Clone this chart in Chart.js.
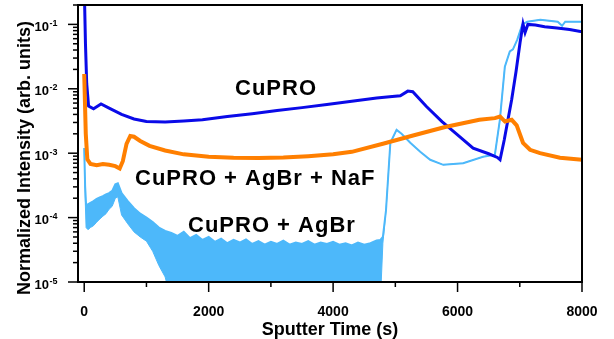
<!DOCTYPE html>
<html>
<head>
<meta charset="utf-8">
<title>Sputter depth profile</title>
<script src="https://cdn.jsdelivr.net/npm/chart.js@4/dist/chart.umd.min.js"></script>
<style>
  body { margin: 0; background: #fff; }
  #wrap { width: 614px; height: 339px; }
</style>
</head>
<body>
<div id="wrap"><canvas id="profileChart" width="614" height="339"></canvas></div>
<script>
// CuPRO (dark blue)
const cuproTime = [0, 20, 40, 70, 150, 270, 400, 600, 800, 1000, 1300, 1600, 1900, 2300, 2700, 3100, 3500, 3900, 4300, 4700, 4950, 5080, 5200, 5280, 5500, 5750, 6000, 6250, 6500, 6640, 6683, 6750, 6870, 6940, 7004, 7052, 7085, 7130, 7250, 7400, 7600, 7800, 8000];
const cuproValues = [0.4, 0.05, 0.012, 5.4e-3, 4.9e-3, 5.8e-3, 5.0e-3, 4.0e-3, 3.4e-3, 3.1e-3, 3.05e-3, 3.15e-3, 3.3e-3, 3.7e-3, 4.1e-3, 4.6e-3, 5.1e-3, 5.7e-3, 6.4e-3, 7.2e-3, 7.6e-3, 7.8e-3, 9.2e-3, 9.0e-3, 5.3e-3, 3.1e-3, 1.93e-3, 1.2e-3, 9.8e-4, 8.6e-4, 7.9e-4, 1.6e-3, 6.8e-3, 0.0185, 0.052, 0.101, 0.075, 0.10, 0.098, 0.092, 0.088, 0.083, 0.077];

// CuPRO + AgBr + NaF (orange)
const nafTime = [0, 25, 50, 100, 200, 300, 400, 500, 570, 620, 680, 740, 800, 900, 1050, 1300, 1600, 2000, 2400, 2800, 3200, 3600, 4000, 4300, 4800, 5300, 5800, 6350, 6600, 6683, 6763, 6870, 6950, 7052, 7165, 7325, 7646, 8000];
const nafValues = [0.017, 2e-3, 8e-4, 6.8e-4, 6.5e-4, 6.8e-4, 6.6e-4, 6.3e-4, 5.8e-4, 7.5e-4, 1.4e-3, 1.85e-3, 1.8e-3, 1.55e-3, 1.3e-3, 1.1e-3, 9.6e-4, 8.8e-4, 8.5e-4, 8.4e-4, 8.6e-4, 9.0e-4, 9.6e-4, 1.05e-3, 1.4e-3, 1.9e-3, 2.55e-3, 3.3e-3, 3.5e-3, 3.7e-3, 3.1e-3, 3.3e-3, 2.7e-3, 1.45e-3, 1.13e-3, 1.0e-3, 8.5e-4, 7.9e-4];

// CuPRO + AgBr (light blue), upper and lower edge of the noisy trace
const agbrTime = [0, 15, 30, 60, 100, 150, 200, 250, 300, 350, 400, 450, 500, 540, 600, 700, 800, 900, 1000, 1100, 1200, 1300, 1400, 1500, 1600, 1700, 1800, 1900, 2000, 2100, 2200, 2300, 2400, 2500, 2600, 2700, 2800, 2900, 3000, 3100, 3200, 3300, 3400, 3500, 3600, 3700, 3800, 3900, 4000, 4100, 4200, 4300, 4400, 4500, 4600, 4700, 4760, 4800, 4850, 4920, 5020, 5100, 5240, 5400, 5560, 5770, 6090, 6410, 6600, 6680, 6760, 6840, 6890, 6960, 7040, 7120, 7330, 7610, 7680, 7730, 8000];
const agbrHigh = [1.2e-3, 3e-4, 1.6e-4, 1.6e-4, 1.7e-4, 1.8e-4, 1.95e-4, 2.05e-4, 2.15e-4, 2.3e-4, 2.4e-4, 2.6e-4, 3.3e-4, 3.4e-4, 2.4e-4, 1.8e-4, 1.4e-4, 1.15e-4, 1.0e-4, 8.5e-5, 7e-5, 6.2e-5, 5.8e-5, 5.2e-5, 6.0e-5, 4.8e-5, 5.4e-5, 4.5e-5, 5.0e-5, 4.2e-5, 4.7e-5, 4.0e-5, 4.5e-5, 4.1e-5, 4.6e-5, 3.9e-5, 4.3e-5, 3.8e-5, 4.2e-5, 3.9e-5, 4.4e-5, 3.8e-5, 4.1e-5, 3.9e-5, 4.3e-5, 3.8e-5, 4.1e-5, 3.9e-5, 4.2e-5, 3.8e-5, 4.0e-5, 3.7e-5, 4.1e-5, 3.8e-5, 4.0e-5, 4.4e-5, 4.5e-5, 5e-5, 1.3e-4, 1.45e-3, 2.3e-3, 2.0e-3, 1.45e-3, 1.05e-3, 7.9e-4, 6.6e-4, 7.0e-4, 8.8e-4, 9.5e-4, 3.3e-3, 0.022, 0.038, 0.041, 0.058, 0.10, 0.11, 0.118, 0.11, 0.095, 0.11, 0.11];
const agbrLow = [1.2e-3, 2e-4, 7e-5, 6.5e-5, 7e-5, 7.5e-5, 8.5e-5, 9.5e-5, 1.05e-4, 1.15e-4, 1.35e-4, 1.5e-4, 2.0e-4, 2.1e-4, 1.1e-4, 8e-5, 6e-5, 5e-5, 4.3e-5, 3e-5, 1.8e-5, 1.2e-5, 5e-6, 5e-6, 5e-6, 5e-6, 5e-6, 5e-6, 5e-6, 5e-6, 5e-6, 5e-6, 5e-6, 5e-6, 5e-6, 5e-6, 5e-6, 5e-6, 5e-6, 5e-6, 5e-6, 5e-6, 5e-6, 5e-6, 5e-6, 5e-6, 5e-6, 5e-6, 5e-6, 5e-6, 5e-6, 5e-6, 5e-6, 5e-6, 5e-6, 5e-6, 5e-6, 4e-5, 1.3e-4, 1.45e-3, 2.3e-3, 2.0e-3, 1.45e-3, 1.05e-3, 7.9e-4, 6.6e-4, 7.0e-4, 8.8e-4, 9.5e-4, 3.3e-3, 0.022, 0.038, 0.041, 0.058, 0.10, 0.11, 0.118, 0.11, 0.095, 0.11, 0.11];

// Axis ticks
const xMajorTicks = [0, 2000, 4000, 6000, 8000];
const xMinorTicks = [1000, 3000, 5000, 7000];
const yExponents = [-5, -4, -3, -2, -1];
const yMinorFactors = [2, 3, 4, 5, 6, 7, 8, 9];

const FONT = '"Liberation Sans", Arial, sans-serif';

function toPoints(times, values) {
    return times.map((t, i) => ({ x: t, y: values[i] }));
}

// Frame, tick marks and every text of the figure
const axesPlugin = {
    id: 'axesPlugin',
    afterDraw(chart) {
        const ctx = chart.ctx;
        const area = chart.chartArea;
        const xScale = chart.scales.x;
        const yScale = chart.scales.y;

        ctx.save();
        ctx.strokeStyle = '#000';
        ctx.fillStyle = '#000';
        ctx.lineWidth = 2;
        ctx.strokeRect(area.left, area.top, area.right - area.left, area.bottom - area.top);

        function tick(x1, y1, x2, y2) {
            ctx.beginPath();
            ctx.moveTo(x1, y1);
            ctx.lineTo(x2, y2);
            ctx.stroke();
        }

        // x ticks
        ctx.lineWidth = 1.5;
        xMajorTicks.forEach(v => {
            const px = xScale.getPixelForValue(v);
            tick(px, area.bottom, px, area.bottom + 10);
        });
        xMinorTicks.forEach(v => {
            const px = xScale.getPixelForValue(v);
            tick(px, area.bottom, px, area.bottom + 5);
        });

        // y ticks (log)
        yExponents.forEach(e => {
            const py = yScale.getPixelForValue(Math.pow(10, e));
            tick(area.left - 10, py, area.left, py);
            yMinorFactors.forEach(f => {
                const v = f * Math.pow(10, e);
                if (v <= yScale.max) {
                    const p = yScale.getPixelForValue(v);
                    tick(area.left - 5, p, area.left, p);
                }
            });
        });

        // x tick labels
        ctx.font = 'bold 14px ' + FONT;
        ctx.textAlign = 'center';
        ctx.textBaseline = 'alphabetic';
        xMajorTicks.forEach(v => {
            ctx.fillText(String(v), xScale.getPixelForValue(v), 316);
        });

        // y tick labels 10^n
        yExponents.forEach(e => {
            const py = yScale.getPixelForValue(Math.pow(10, e));
            ctx.font = 'bold 13px ' + FONT;
            ctx.textAlign = 'right';
            ctx.fillText('10', 49, py + 6.5);
            ctx.font = 'bold 9px ' + FONT;
            ctx.textAlign = 'left';
            ctx.fillText(String(e), 49.5, py + 1.5);
        });

        // axis titles
        ctx.font = 'bold 18px ' + FONT;
        ctx.textAlign = 'center';
        ctx.fillText('Sputter Time (s)', (area.left + area.right) / 2, 335);

        ctx.save();
        ctx.translate(30, 158);
        ctx.rotate(-Math.PI / 2);
        ctx.fillText('Normalized Intensity (arb. units)', 0, 0);
        ctx.restore();

        // series labels
        ctx.font = 'bold 22px ' + FONT;
        ctx.textAlign = 'left';
        ctx.letterSpacing = '1px';
        ctx.fillText('CuPRO', 235, 95);
        ctx.fillText('CuPRO + AgBr + NaF', 135, 185);
        ctx.fillText('CuPRO + AgBr', 188, 232);
        ctx.restore();
    }
};

function createChart(ctx) {
    const chartConfig = {
        type: 'line',
        data: {
            datasets: [
                {
                    label: 'CuPRO + AgBr + NaF',
                    data: toPoints(nafTime, nafValues),
                    borderColor: '#ff7f00',
                    borderWidth: 4,
                    fill: false
                },
                {
                    label: 'CuPRO',
                    data: toPoints(cuproTime, cuproValues),
                    borderColor: '#0a0ae8',
                    borderWidth: 3,
                    fill: false
                },
                {
                    label: 'CuPRO + AgBr',
                    data: toPoints(agbrTime, agbrHigh),
                    borderColor: '#4db8fa',
                    backgroundColor: '#4db8fa',
                    borderWidth: 2,
                    fill: '+1'
                },
                {
                    label: 'CuPRO + AgBr low',
                    data: toPoints(agbrTime, agbrLow),
                    borderColor: '#4db8fa',
                    borderWidth: 1,
                    fill: false
                }
            ]
        },
        options: {
            responsive: false,
            animation: false,
            devicePixelRatio: 1,
            layout: {
                padding: { left: 78, right: 32, top: 5, bottom: 57 }
            },
            elements: {
                point: { radius: 0 },
                line: { tension: 0 }
            },
            plugins: {
                legend: { display: false },
                tooltip: { enabled: false }
            },
            scales: {
                x: { type: 'linear', min: -100, max: 8000, display: false },
                y: { type: 'logarithmic', min: 1e-5, max: 0.2, display: false }
            }
        },
        plugins: [axesPlugin]
    };
    return new Chart(ctx, chartConfig);
}

document.addEventListener('DOMContentLoaded', function() {
    const ctx = document.getElementById('profileChart').getContext('2d');
    createChart(ctx);
});
</script>
</body>
</html>
